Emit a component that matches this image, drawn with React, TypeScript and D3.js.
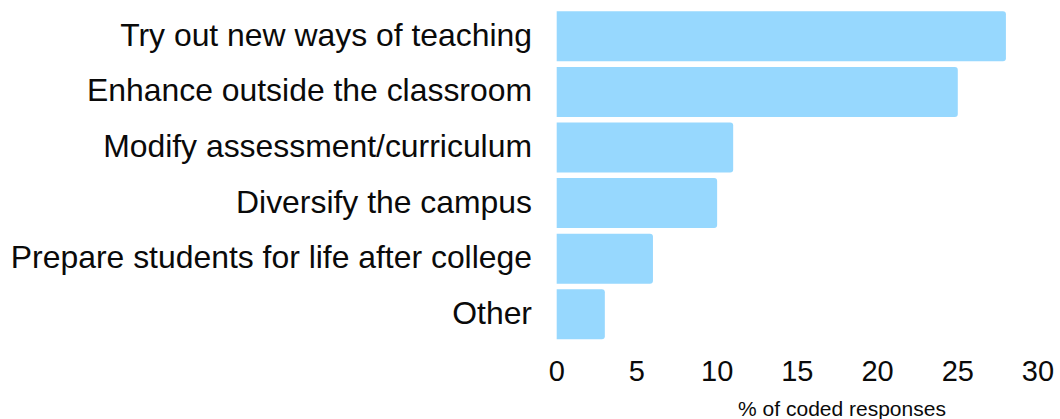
import React from "react";
import * as d3 from "d3";

const categories = [
  "Try out new ways of teaching",
  "Enhance outside the classroom",
  "Modify assessment/curriculum",
  "Diversify the campus",
  "Prepare students for life after college",
  "Other",
];
const values = [28, 25, 11, 10, 6, 3];
const xTicks = [0, 5, 10, 15, 20, 25, 30];
const xTitle = "% of coded responses";

const W = 1060;
const H = 419;

function barPath(x0: number, y0: number, w: number, h: number, r: number) {
  const rr = Math.min(r, w / 2, h / 2);
  return `M${x0},${y0}H${x0 + w - rr}Q${x0 + w},${y0} ${x0 + w},${y0 + rr}V${y0 + h - rr}Q${x0 + w},${y0 + h} ${x0 + w - rr},${y0 + h}H${x0}Z`;
}

export default function App() {
  const x = d3.scaleLinear().domain([0, 30]).range([556.7, 1038]);
  const y = d3
    .scaleBand<string>()
    .domain(categories)
    .range([8.5, 342.1])
    .paddingInner(0.1)
    .paddingOuter(0.05);
  const font = "'Liberation Sans', Arial, sans-serif";
  return (
    <svg
      width={W}
      height={H}
      style={{ position: "absolute", left: 0, top: 0, background: "#fff" }}
      fontFamily={font}
    >
      {categories.map((c, i) => (
        <g key={c}>
          <path
            d={barPath(x(0), y(c)!, x(values[i]) - x(0), y.bandwidth(), 3)}
            fill="#97d8fe"
          />
          <text
            x={532}
            y={y(c)! + y.bandwidth() / 2}
            dy="0.3em"
            textAnchor="end"
            fontSize={31.9}
            fill="#0a0a0a"
          >
            {c}
          </text>
        </g>
      ))}
      {xTicks.map((t) => (
        <text key={t} x={x(t)} y={381} textAnchor="middle" fontSize={29} fill="#0a0a0a">
          {t}
        </text>
      ))}
      <text x={842} y={415.5} textAnchor="middle" fontSize={21} fill="#0a0a0a">
        {xTitle}
      </text>
    </svg>
  );
}
